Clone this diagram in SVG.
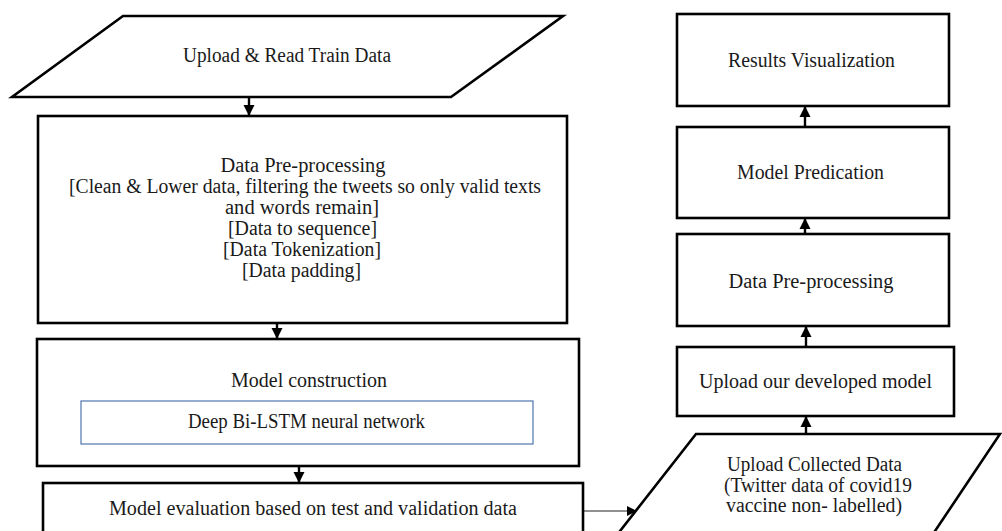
<svg xmlns="http://www.w3.org/2000/svg" width="1002" height="531" viewBox="0 0 1002 531">
<defs>
<style>
.box{fill:#fff;stroke:#000;stroke-width:2.6}
.inner{fill:#fff;stroke:#4f76b0;stroke-width:1.2}
.t{font-family:"Liberation Serif","DejaVu Serif",serif;font-size:20px;fill:#1a1a1a;text-anchor:middle}
.c{stroke:#000;stroke-width:2.4;fill:none}
.thin{stroke:#222;stroke-width:1.1;fill:none}
</style>
<marker id="ah" markerUnits="userSpaceOnUse" viewBox="0 0 10 10" refX="10" refY="5" markerWidth="11" markerHeight="12" orient="auto">
<path d="M0,0 L10,5 L0,10 z" fill="#000"/>
</marker>
<marker id="ahs" markerUnits="userSpaceOnUse" viewBox="0 0 10 10" refX="10" refY="5" markerWidth="11" markerHeight="10" orient="auto">
<path d="M0,0 L10,5 L0,10 z" fill="#000"/>
</marker>
</defs>
<rect width="1002" height="531" fill="#fff"/>

<g id="connectors">
<line class="c" x1="249" y1="97" x2="249" y2="116" marker-end="url(#ah)"/>
<line class="c" x1="277" y1="323" x2="277" y2="339" marker-end="url(#ah)"/>
<line class="c" x1="299" y1="466" x2="299" y2="483" marker-end="url(#ah)"/>
<line class="thin" x1="583" y1="511" x2="637" y2="511" marker-end="url(#ahs)"/>
<line class="c" x1="806" y1="434" x2="806" y2="416" marker-end="url(#ah)"/>
<line class="c" x1="806" y1="347" x2="806" y2="326" marker-end="url(#ah)"/>
<line class="c" x1="805" y1="234" x2="805" y2="218" marker-end="url(#ah)"/>
<line class="c" x1="805" y1="127" x2="805" y2="106" marker-end="url(#ah)"/>
</g>

<g id="upload-train">
<polygon class="box" points="123,16 563,16 451,97 12,97"/>
<text class="t" x="287" y="62" textLength="208" lengthAdjust="spacingAndGlyphs">Upload &amp; Read Train Data</text>
</g>

<g id="preprocessing-train">
<rect class="box" x="38" y="116" width="529" height="207"/>
<text class="t" x="303" y="172" textLength="165" lengthAdjust="spacingAndGlyphs">Data Pre-processing</text>
<text class="t" x="305" y="193" textLength="472" lengthAdjust="spacingAndGlyphs">[Clean &amp; Lower data, filtering the tweets so only valid texts</text>
<text class="t" x="302" y="214" textLength="154" lengthAdjust="spacingAndGlyphs">and words remain]</text>
<text class="t" x="302.5" y="235" textLength="149" lengthAdjust="spacingAndGlyphs">[Data to sequence]</text>
<text class="t" x="302" y="256" textLength="158" lengthAdjust="spacingAndGlyphs">[Data Tokenization]</text>
<text class="t" x="301.5" y="277" textLength="119" lengthAdjust="spacingAndGlyphs">[Data padding]</text>
</g>

<g id="model-construction">
<rect class="box" x="37" y="339" width="542" height="127"/>
<text class="t" x="309" y="387" textLength="156" lengthAdjust="spacingAndGlyphs">Model construction</text>
<rect class="inner" x="81" y="401" width="452" height="43"/>
<text class="t" x="306.5" y="428" textLength="237" lengthAdjust="spacingAndGlyphs">Deep Bi-LSTM neural network</text>
</g>

<g id="model-evaluation">
<rect class="box" x="43" y="483" width="540" height="70"/>
<text class="t" x="313" y="515" textLength="408" lengthAdjust="spacingAndGlyphs">Model evaluation based on test and validation data</text>
</g>

<g id="upload-collected">
<polygon class="box" points="696,434 1000,434 929,540 613,540"/>
<text class="t" x="814.5" y="471" textLength="175" lengthAdjust="spacingAndGlyphs">Upload Collected Data</text>
<text class="t" x="818" y="492" textLength="188" lengthAdjust="spacingAndGlyphs">(Twitter data of covid19</text>
<text class="t" x="814" y="512" textLength="176" lengthAdjust="spacingAndGlyphs">vaccine non- labelled)</text>
</g>

<g id="upload-model">
<rect class="box" x="677" y="347" width="277" height="69"/>
<text class="t" x="815.5" y="388" textLength="233" lengthAdjust="spacingAndGlyphs">Upload our developed model</text>
</g>

<g id="preprocessing-new">
<rect class="box" x="677" y="234" width="272" height="92"/>
<text class="t" x="811" y="288" textLength="165" lengthAdjust="spacingAndGlyphs">Data Pre-processing</text>
</g>

<g id="model-prediction">
<rect class="box" x="677" y="127" width="272" height="91"/>
<text class="t" x="810.5" y="179" textLength="147" lengthAdjust="spacingAndGlyphs">Model Predication</text>
</g>

<g id="results-visualization">
<rect class="box" x="677" y="14" width="272" height="92"/>
<text class="t" x="811.5" y="67" textLength="167" lengthAdjust="spacingAndGlyphs">Results Visualization</text>
</g>
</svg>
